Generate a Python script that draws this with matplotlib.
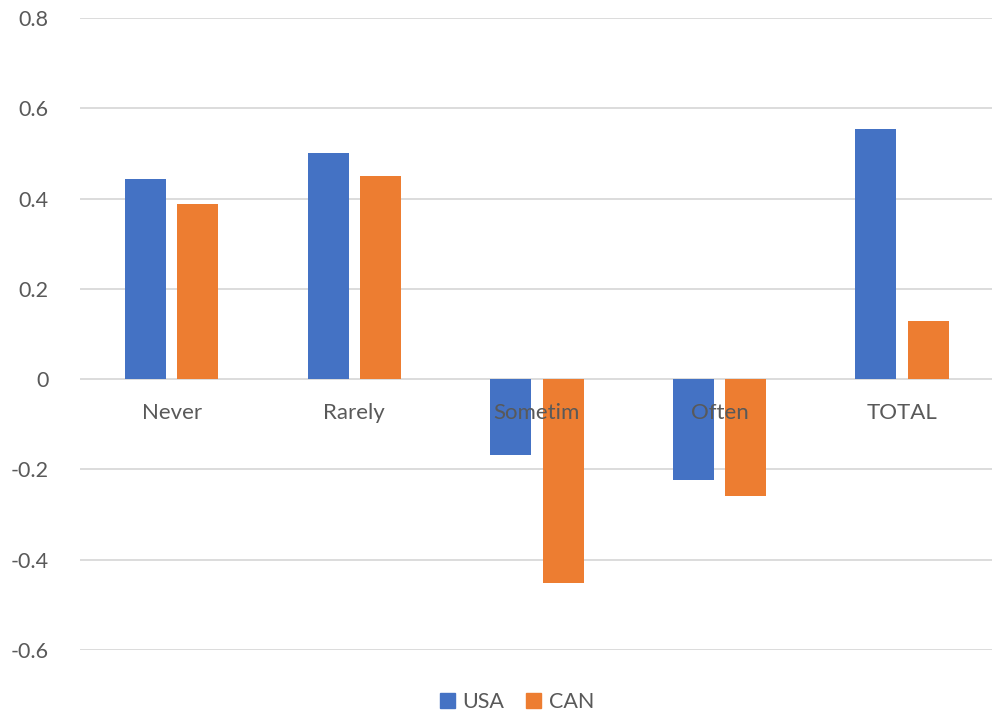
import numpy as np
import matplotlib
matplotlib.use("Agg")
from matplotlib import pyplot as plt
from matplotlib.patches import Patch

# survey frequency categories and the two country series
categories = ["Never", "Rarely", "Sometim", "Often", "TOTAL"]
usa = [0.443, 0.500, -0.167, -0.223, 0.555]
can = [0.387, 0.450, -0.452, -0.258, 0.128]
y_ticks = [-0.6, -0.4, -0.2, 0, 0.2, 0.4, 0.6, 0.8]
y_labels = ["-0.6", "-0.4", "-0.2", "0", "0.2", "0.4", "0.6", "0.8"]

plt.rcParams['font.family'] = ['Lato', 'DejaVu Sans']
text_col = '#595959'
grid_col = '#D9D9D9'
blue = '#4472C4'
orange = '#ED7D31'

fig = plt.figure(figsize=(9.92, 7.14), dpi=100)
ax = fig.add_axes([80.4 / 992, 64 / 714, 913 / 992, 632 / 714])

x = np.arange(len(categories))
w = 0.225
off = 0.1434
ax.bar(x - off, usa, w, color=blue, zorder=3)
ax.bar(x + off, can, w, color=orange, zorder=3)

ax.set_xlim(-0.5, len(categories) - 0.5)
ax.set_ylim(-0.6, 0.8)
ax.set_yticks(y_ticks)
ax.set_yticklabels(y_labels)
ax.set_xticks([])
ax.tick_params(axis='y', length=0, pad=23, labelsize=15.5, labelcolor=text_col)
for s in ax.spines.values():
    s.set_visible(False)
for t in y_ticks:
    ax.axhline(t, color=grid_col, lw=1.3, zorder=1)

# category names sit just under the zero line, over the bars
for i, c in enumerate(categories):
    ax.annotate(c, (i, 0), xytext=(0, -40), textcoords='offset pixels',
                ha='center', va='baseline', fontsize=16, color=text_col,
                zorder=4)

handles = [Patch(color=blue, label='USA'), Patch(color=orange, label='CAN')]
fig.legend(handles=handles, loc='center', bbox_to_anchor=(517 / 992, 12 / 714),
           ncol=2, frameon=False, fontsize=15.5, labelcolor=text_col,
           handlelength=0.7, handleheight=0.7, handletextpad=0.35,
           columnspacing=1.0, borderaxespad=0, borderpad=0)

fig.savefig('out.png', dpi=100)
